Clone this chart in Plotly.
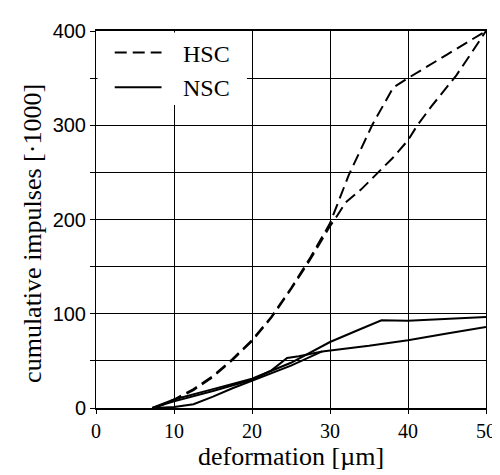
import plotly.graph_objects as go

# HSC curves (deformation in um, cumulative impulses in thousands)
hsc1_x = [7.4, 10, 12.5, 15, 17.5, 20, 22.5, 25, 27.5, 30, 32.4, 35.4, 38.1, 40, 45, 50]
hsc1_y = [0, 9, 20, 34, 52, 72, 97, 127, 160, 196, 247, 300, 340, 350, 375, 400]
hsc2_x = [7.4, 10, 12.5, 15, 17.5, 20, 22.5, 25, 27.5, 30, 31, 32, 34, 36.2, 38, 40, 41.2, 43, 46.2, 48, 50]
hsc2_y = [0, 8, 19, 33, 51, 71, 96, 126, 158, 193, 205, 218, 232, 250, 265, 284, 300, 320, 353, 375, 400]

# NSC curves
nsc1_x = [7.2, 10, 15, 20, 25, 30, 33.7, 36.6, 40, 45, 50]
nsc1_y = [0, 9, 20, 31, 48, 70, 83, 93, 92.5, 94.5, 96.5]
nsc2_x = [7.2, 10, 15, 20, 22.5, 24.5, 26, 29, 35, 40, 45, 50]
nsc2_y = [0, 7, 18, 30, 40, 53, 55, 60, 66, 72, 79, 86]
nsc3_x = [7.5, 10, 12.5, 15, 17.5, 20, 25, 29]
nsc3_y = [0, 1, 4, 12, 21, 29, 45, 60]

y_tickvals = [0, 50, 100, 150, 200, 250, 300, 350, 400]
y_ticktext = ["0", "", "100", "", "200", "", "300", "", "400"]
x_tickvals = [0, 10, 20, 30, 40, 50]

legend_names = ["HSC", "NSC"]
x_title = "deformation [µm]"
y_title = "cumulative impulses [·1000]"

serif = "Liberation Serif, Times New Roman, serif"
sans = "Liberation Sans, Arial, sans-serif"

fig = go.Figure()
hsc_dash = "12px,6px"
line_hsc = dict(color="black", width=2, dash=hsc_dash)
line_nsc = dict(color="black", width=2)

for xs, ys in [(hsc1_x, hsc1_y), (hsc2_x, hsc2_y)]:
    fig.add_trace(go.Scatter(x=xs, y=ys, mode="lines", line=line_hsc,
                             name="HSC", showlegend=False))
for xs, ys in [(nsc1_x, nsc1_y), (nsc2_x, nsc2_y), (nsc3_x, nsc3_y)]:
    fig.add_trace(go.Scatter(x=xs, y=ys, mode="lines", line=line_nsc,
                             name="NSC", showlegend=False))

# manual legend (white box, sample lines, labels)
shapes = [
    dict(type="rect", xref="paper", yref="paper", x0=0.004, x1=0.387, y0=0.804, y1=0.996,
         fillcolor="white", line=dict(width=0), layer="above"),
    dict(type="line", xref="paper", yref="paper", x0=0.048, x1=0.168, y0=0.943, y1=0.943,
         line=dict(color="black", width=2, dash=hsc_dash), layer="above"),
    dict(type="line", xref="paper", yref="paper", x0=0.048, x1=0.168, y0=0.851, y1=0.851,
         line=dict(color="black", width=2), layer="above"),
]
annotations = [
    dict(text=legend_names[0], xref="paper", yref="paper", x=0.219, y=0.939,
         xanchor="left", yanchor="middle", showarrow=False,
         font=dict(family=serif, size=24, color="black")),
    dict(text=legend_names[1], xref="paper", yref="paper", x=0.219, y=0.849,
         xanchor="left", yanchor="middle", showarrow=False,
         font=dict(family=serif, size=24, color="black")),
    dict(text=y_title, xref="paper", yref="paper", x=-0.163, y=0.463,
         xanchor="center", yanchor="middle", textangle=-90, showarrow=False,
         font=dict(family=serif, size=26, color="black")),
]

fig.update_layout(
    width=500, height=475,
    margin=dict(l=88, r=14, t=22, b=75),
    paper_bgcolor="white", plot_bgcolor="white",
    font=dict(family=serif, color="black", size=20),
    showlegend=False,
    shapes=shapes,
    annotations=annotations,
)
fig.update_xaxes(
    range=[0, 50], tickvals=x_tickvals,
    showgrid=True, gridcolor="black", gridwidth=1,
    showline=True, linecolor="black", linewidth=2, mirror=True,
    ticks="outside", ticklen=4, tickcolor="black", tickwidth=1,
    tickfont=dict(family=serif, size=20, color="black"),
    title=dict(text=x_title, font=dict(family=serif, size=26, color="black"), standoff=0),
    zeroline=False,
)
fig.update_yaxes(
    range=[0, 400], tickvals=y_tickvals, ticktext=y_ticktext,
    showgrid=True, gridcolor="black", gridwidth=1,
    showline=True, linecolor="black", linewidth=1, mirror=True,
    ticks="outside", ticklen=5, tickcolor="black", tickwidth=1,
    tickfont=dict(family=sans, size=20, color="black"),
    zeroline=False,
)

fig.write_html("out.html")
